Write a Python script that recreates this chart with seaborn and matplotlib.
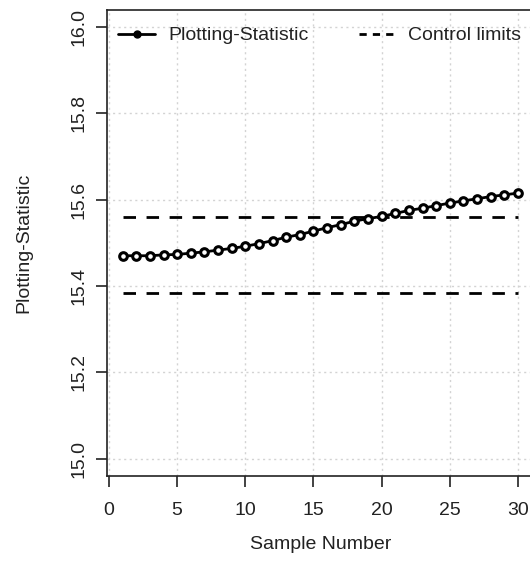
import matplotlib
matplotlib.use("Agg")
import matplotlib.pyplot as plt
from matplotlib.lines import Line2D
import seaborn as sns

sample_number = list(range(1, 31))
plotting_statistic = [15.470, 15.470, 15.470, 15.472, 15.473, 15.476, 15.479, 15.483,
                      15.487, 15.492, 15.498, 15.505, 15.513, 15.519, 15.527, 15.535,
                      15.542, 15.550, 15.556, 15.561, 15.568, 15.575, 15.580, 15.586,
                      15.592, 15.597, 15.602, 15.607, 15.611, 15.615]
upper_limit = 15.559
lower_limit = 15.384
x_ticks = [0, 5, 10, 15, 20, 25, 30]
y_ticks = [15.0, 15.2, 15.4, 15.6, 15.8, 16.0]

sns.set_style("white")
plt.rcParams['font.family'] = ['Liberation Sans', 'DejaVu Sans']

fig = plt.figure(figsize=(5.3, 5.62), dpi=100)
ax = fig.add_axes([0.2015, 0.153, 0.8057, 0.830])

dash = (0, (4.5, 3.8))

# control limits
sns.lineplot(x=sample_number, y=[upper_limit] * len(sample_number), ax=ax,
             color="black", linewidth=2, linestyle=dash)
sns.lineplot(x=sample_number, y=[lower_limit] * len(sample_number), ax=ax,
             color="black", linewidth=2, linestyle=dash)

# statistic
sns.lineplot(x=sample_number, y=plotting_statistic, ax=ax, color="black",
             linewidth=2, marker="o", markersize=5.5, markerfacecolor="white",
             markeredgecolor="black", markeredgewidth=2.2)

ax.set_xlim(-0.16, 31.16)
ax.set_ylim(14.96, 16.04)
ax.set_xticks(x_ticks)
ax.set_yticks(y_ticks)
ax.set_xticklabels([str(t) for t in x_ticks])
ax.set_yticklabels([f"{t:.1f}" for t in y_ticks], rotation=90, va="center")
ax.grid(True, color="#d3d3d3", linestyle=(0, (1.5, 2.5)), linewidth=1)
ax.set_axisbelow(True)

for side in ["left", "bottom", "top", "right"]:
    ax.spines[side].set_color("#222222")
    ax.spines[side].set_linewidth(1.2)

ax.tick_params(axis="both", direction="out", length=8, width=1.2, color="#222222",
               labelsize=14, labelcolor="#222222", left=True, bottom=True)
ax.tick_params(axis="x", pad=11)
ax.tick_params(axis="y", pad=6)

ax.set_xlabel("Sample Number", fontsize=14, color="#222222", labelpad=12)
ax.set_ylabel("Plotting-Statistic", fontsize=14, color="#222222", labelpad=27)

handles = [Line2D([], [], color="black", linewidth=2, marker="o", markersize=5),
           Line2D([], [], color="black", linewidth=2, linestyle=(0, (2.6, 2.2)))]
ax.legend(handles, ["Plotting-Statistic", "Control limits"], ncol=2, frameon=False,
          loc="upper left", bbox_to_anchor=(0.0, 0.988), fontsize=14,
          borderaxespad=0.2, handlelength=1.9, handletextpad=0.65,
          columnspacing=2.6, labelcolor="#222222")

fig.savefig("out.png", dpi=100)
